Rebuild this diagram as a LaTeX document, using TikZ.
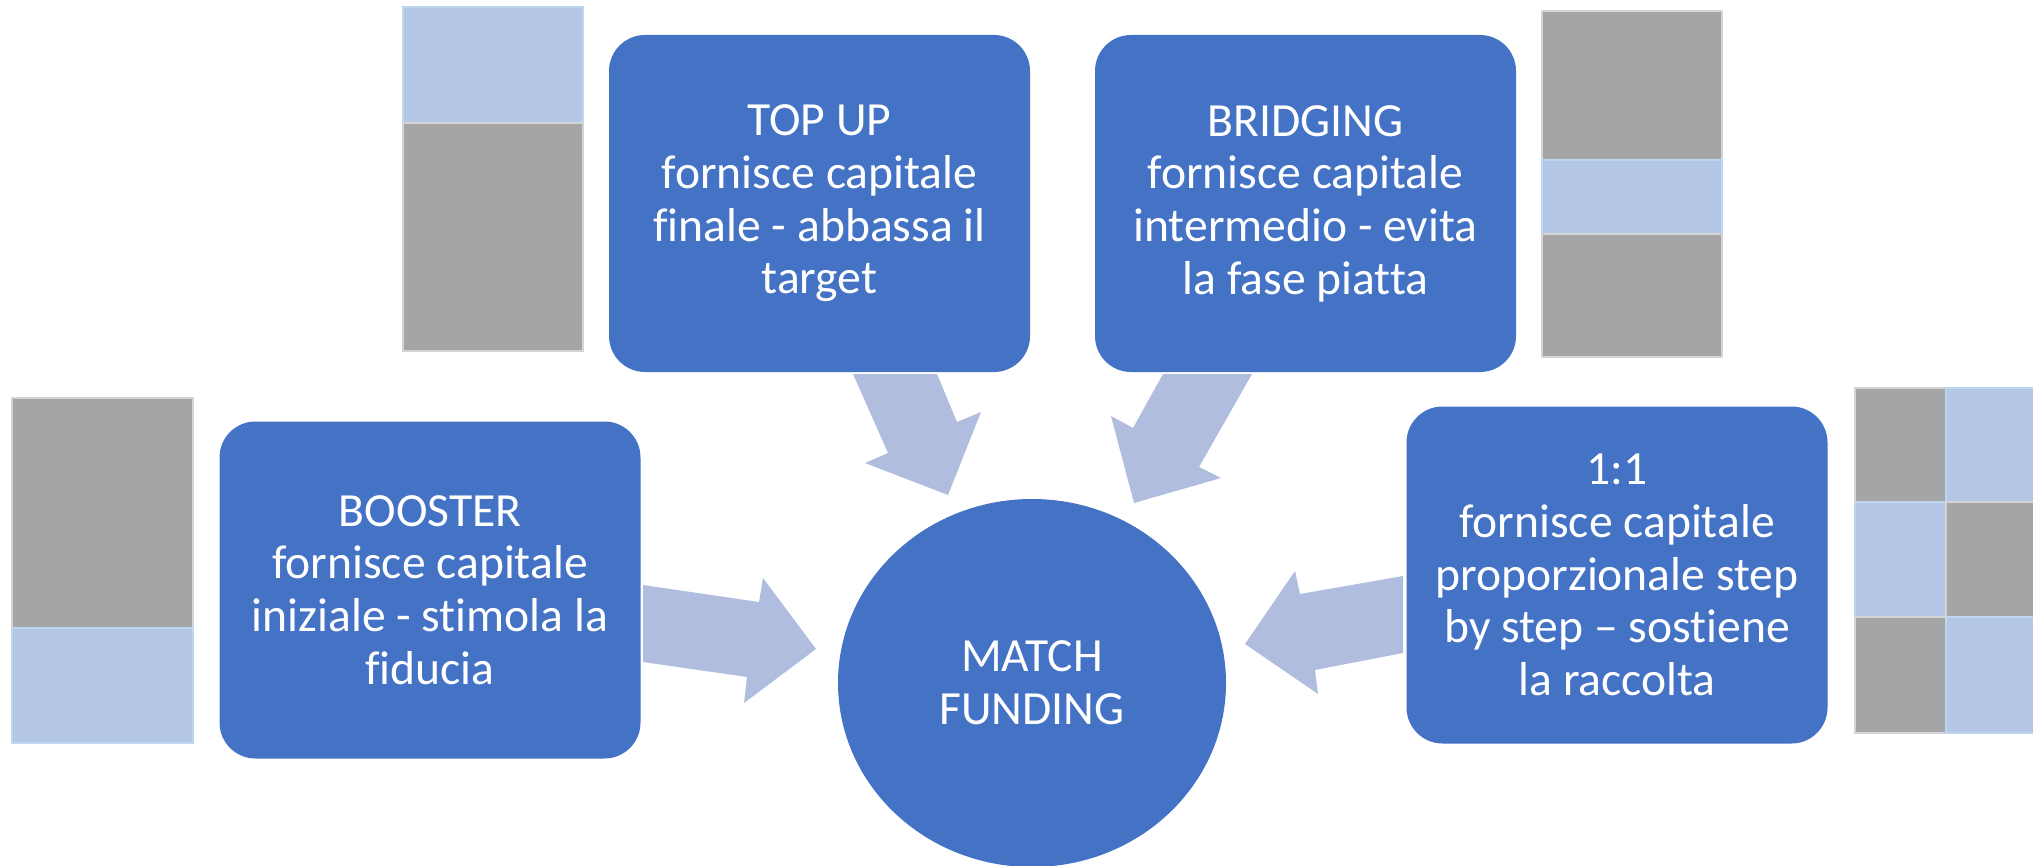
\documentclass[tikz,border=0pt]{standalone}
\usepackage{fontspec}
\setmainfont{Carlito}[RawFeature={-liga;-clig;-dlig}]
\usetikzlibrary{shapes.geometric}
\definecolor{boxblue}{HTML}{4472C4}
\definecolor{arrowblue}{HTML}{B0BDDF}
\definecolor{barblue}{HTML}{B4C7E7}
\definecolor{barblueedge}{HTML}{BDD7EE}
\definecolor{bargray}{HTML}{A5A5A5}
\definecolor{bargrayedge}{HTML}{D4D4D4}
\begin{document}
\begin{tikzpicture}[x=0.5pt,y=-0.5pt,
  box/.style={rectangle, rounded corners=18pt, fill=boxblue, text=white,
    minimum width=210.5pt, minimum height=168.5pt, align=center, inner sep=0pt,
    font=\fontsize{23.8}{26.3}\selectfont},
  hub/.style={ellipse, fill=boxblue, text=white, minimum width=194pt,
    minimum height=184pt, align=center, inner sep=0pt,
    font=\fontsize{23.8}{26.3}\selectfont},
  blockarrow/.style={fill=arrowblue},
  graybar/.style={fill=bargray, draw=bargrayedge, line width=0.6pt},
  bluebar/.style={fill=barblue, draw=barblueedge, line width=1pt}]
\useasboundingbox (0,0) rectangle (2033,866);
\clip (0,0) rectangle (2033,866);

% bars
% BOOSTER bar
\draw[graybar] (12,398) rectangle (193,628);
\draw[bluebar] (12,628) rectangle (193,743);
% TOP UP bar
\draw[bluebar] (403,7) rectangle (583,123);
\draw[graybar] (403,123) rectangle (583,351);
% BRIDGING bar
\draw[graybar] (1542,11) rectangle (1722,160);
\draw[bluebar] (1542,160) rectangle (1722,234);
\draw[graybar] (1542,234) rectangle (1722,357);
% 1:1 bars
\draw[graybar] (1855,388) rectangle (1946,502);
\draw[bluebar] (1855,502) rectangle (1946,617);
\draw[graybar] (1855,617) rectangle (1946,733);
\draw[bluebar] (1946,388) rectangle (2037,502);
\draw[graybar] (1946,502) rectangle (2037,617);
\draw[bluebar] (1946,617) rectangle (2037,733);

% boxes
\node[box] (topup) at (819.5,203.5) {TOP UP\\fornisce capitale\\finale - abbassa il\\target};
\node[box] (bridging) at (1305.5,203.5) {BRIDGING\\fornisce capitale\\intermedio - evita\\la fase piatta};
\node[box] (booster) at (430,590) {BOOSTER\\fornisce capitale\\iniziale - stimola la\\fiducia};
\node[box] (oneone) at (1617,575) {1:1\\fornisce capitale\\proporzionale step\\by step -- sostiene\\la raccolta};
\node[hub] (match) at (1032,683) {MATCH\\FUNDING};

% block arrows
\fill[blockarrow] (853,374) -- (937,374) -- (957,422) -- (981,412) -- (948,495) -- (865,463) -- (888,453) -- cycle;
\fill[blockarrow] (1163,374) -- (1252,374) -- (1199,467) -- (1221,478) -- (1134,503) -- (1111,416) -- (1133,428) -- cycle;
\fill[blockarrow] (643,585) -- (759,602) -- (763,578) -- (816,649) -- (744,703) -- (747,677) -- (643,662) -- cycle;
\fill[blockarrow] (1403,576) -- (1300,594) -- (1295,571) -- (1245,644) -- (1318,694) -- (1315,670) -- (1403,653) -- cycle;
\end{tikzpicture}
\end{document}
